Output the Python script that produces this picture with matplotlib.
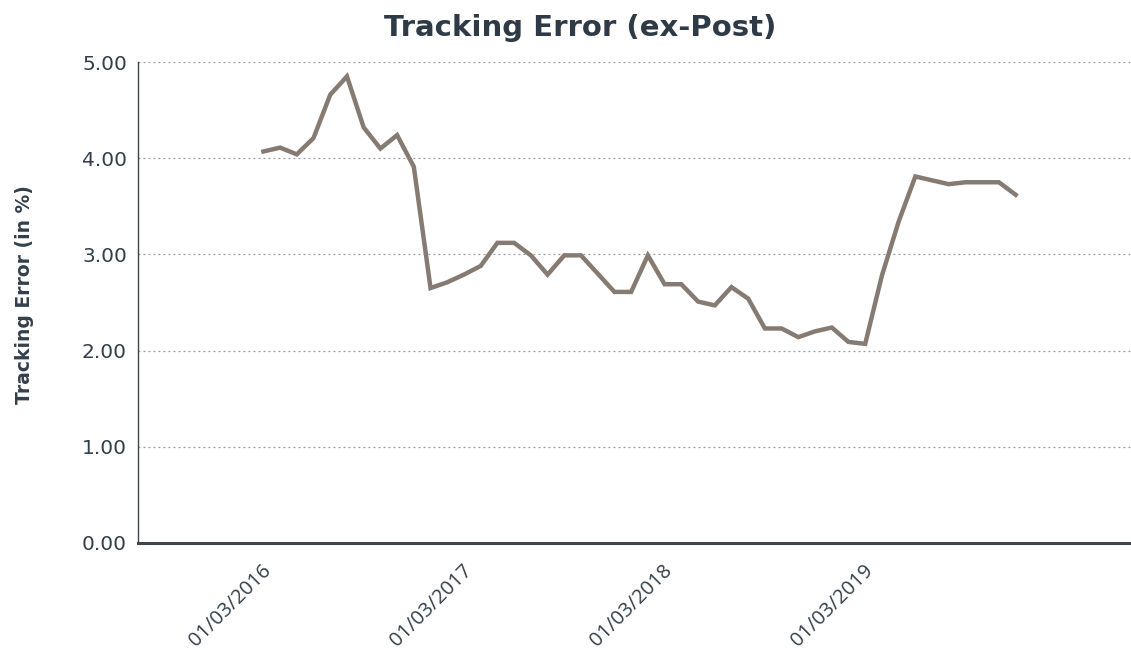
import matplotlib
matplotlib.use('Agg')
import matplotlib.pyplot as plt
import matplotlib.transforms as mtransforms

# Monthly tracking error, Mar 2016 .. Dec 2019.
months = list(range(46))
te_values = [4.07, 4.11, 4.04, 4.21, 4.66, 4.85, 4.32, 4.10, 4.24, 3.91,
             2.65, 2.71, 2.79, 2.88, 3.12, 3.12, 2.99, 2.79, 2.99, 2.99,
             2.80, 2.61, 2.61, 2.99, 2.69, 2.69, 2.51, 2.47, 2.66, 2.54,
             2.23, 2.23, 2.14, 2.20, 2.24, 2.09, 2.07, 2.78, 3.34, 3.81,
             3.77, 3.73, 3.75, 3.75, 3.75, 3.62]
tick_pos = [0, 12, 24, 36]
tick_labels = ['01/03/2016', '01/03/2017', '01/03/2018', '01/03/2019']
y_ticks = [0, 1, 2, 3, 4, 5]

text_col = '#333f4a'

fig = plt.figure(figsize=(11.31, 6.5), dpi=100)
ax = fig.add_axes([138/1131, 1 - 543/650, 1 - 138/1131, (543 - 62)/650])

ax.plot(months, te_values, color='#857b72', linewidth=3.2, solid_joinstyle='miter')

ax.set_xlim(-7.5, 51.9)
ax.set_ylim(0, 5)
ax.set_yticks(y_ticks)
ax.set_yticklabels(['%.2f' % v for v in y_ticks])
ax.set_xticks(tick_pos)
ax.set_xticklabels(tick_labels, rotation=45, ha='right', va='top',
                   family='Open Sans', fontsize=14.5)
ax.tick_params(axis='x', length=0, pad=13, colors=text_col)
ax.tick_params(axis='y', length=0, pad=8, labelsize=14.5, colors=text_col)

# shift the date labels a bit to the right, like the original
offset = mtransforms.ScaledTranslation(12/100, 0, fig.dpi_scale_trans)
for lab in ax.get_xticklabels():
    lab.set_transform(lab.get_transform() + offset)

ax.grid(axis='y', linestyle=(0, (1.5, 2.5)), color='#999999', linewidth=0.9)
ax.set_axisbelow(True)
for s in ['top', 'right']:
    ax.spines[s].set_visible(False)
ax.spines['left'].set_color('#3a4550')
ax.spines['left'].set_linewidth(1.0)
ax.spines['bottom'].set_color('#3a4550')
ax.spines['bottom'].set_linewidth(2.2)

fig.text(580/1131, 1 - 28/650, 'Tracking Error (ex-Post)', ha='center', va='center',
         fontsize=21, fontweight='bold', color='#2e3b47')
fig.text(25/1131, 1 - 295/650, 'Tracking Error (in %)', rotation=90, ha='center',
         va='center', fontsize=13.5, fontweight='bold', color=text_col)

fig.savefig('out.png', dpi=100)
